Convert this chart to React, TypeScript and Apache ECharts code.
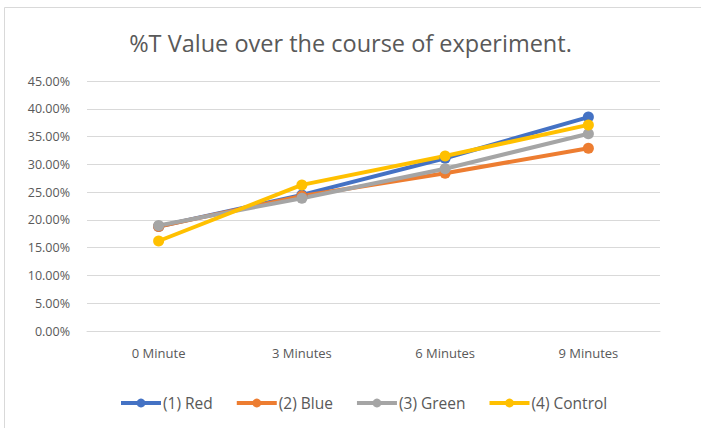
import React, { useEffect, useRef } from "react";
import * as echarts from "echarts";

const categories = ["0 Minute", "3 Minutes", "6 Minutes", "9 Minutes"];
const seriesNames = ["(1) Red", "(2) Blue", "(3) Green", "(4) Control"];
const redValues = [0.188, 0.245, 0.311, 0.385];
const blueValues = [0.188, 0.243, 0.284, 0.329];
const greenValues = [0.19, 0.239, 0.292, 0.355];
const controlValues = [0.162, 0.263, 0.315, 0.371];
const colors = ["#4472C4", "#ED7D31", "#A5A5A5", "#FFC000"];

export default function App() {
  const ref = useRef<HTMLDivElement>(null);
  useEffect(() => {
    if (!ref.current) return;
    const chart = echarts.init(ref.current, undefined, { renderer: "svg" });
    const font = "'Open Sans', Lato, sans-serif";
    const data = [redValues, blueValues, greenValues, controlValues];
    chart.setOption({
      animation: false,
      backgroundColor: "#ffffff",
      textStyle: { fontFamily: font },
      title: {
        text: "%T Value over the course of experiment.",
        left: "center",
        top: 26,
        textStyle: { fontFamily: font, fontSize: 23.5, fontWeight: "normal", color: "#595959" },
      },
      graphic: [
        {
          type: "rect",
          shape: { x: 4.5, y: 7.5, width: 800, height: 600 },
          style: { fill: "none", stroke: "#d9d9d9", lineWidth: 1 },
          silent: true,
        },
      ],
      grid: { left: 87, right: 41, top: 81, bottom: 97, containLabel: false },
      legend: {
        bottom: 12,
        left: 114,
        itemWidth: 40,
        itemHeight: 11,
        itemGap: 22,
        lineStyle: { width: 4 },
        textStyle: { fontFamily: font, fontSize: 15.5, color: "#595959", padding: [0, 0, 0, -3] },
        data: seriesNames,
      },
      xAxis: {
        type: "category",
        data: categories,
        boundaryGap: true,
        axisLine: { lineStyle: { color: "#d9d9d9", width: 1 } },
        axisTick: { show: false },
        axisLabel: { fontFamily: font, fontSize: 13, color: "#595959", margin: 15 },
      },
      yAxis: {
        type: "value",
        min: 0,
        max: 0.45,
        interval: 0.05,
        axisLine: { show: false },
        axisTick: { show: false },
        splitLine: { lineStyle: { color: "#d9d9d9", width: 1 } },
        axisLabel: {
          fontFamily: font,
          fontSize: 12.5,
          color: "#595959",
          margin: 17,
          formatter: (v: number) => (v * 100).toFixed(2) + "%",
        },
      },
      series: seriesNames.map((name, i) => ({
        name,
        type: "line",
        data: data[i],
        symbol: "circle",
        symbolSize: 11,
        lineStyle: { width: 4, color: colors[i] },
        itemStyle: { color: colors[i] },
        emphasis: { disabled: true },
      })),
    });
    return () => chart.dispose();
  }, []);
  return (
    <div
      ref={ref}
      style={{ position: "fixed", left: 0, top: 0, width: 701, height: 428 }}
    />
  );
}
